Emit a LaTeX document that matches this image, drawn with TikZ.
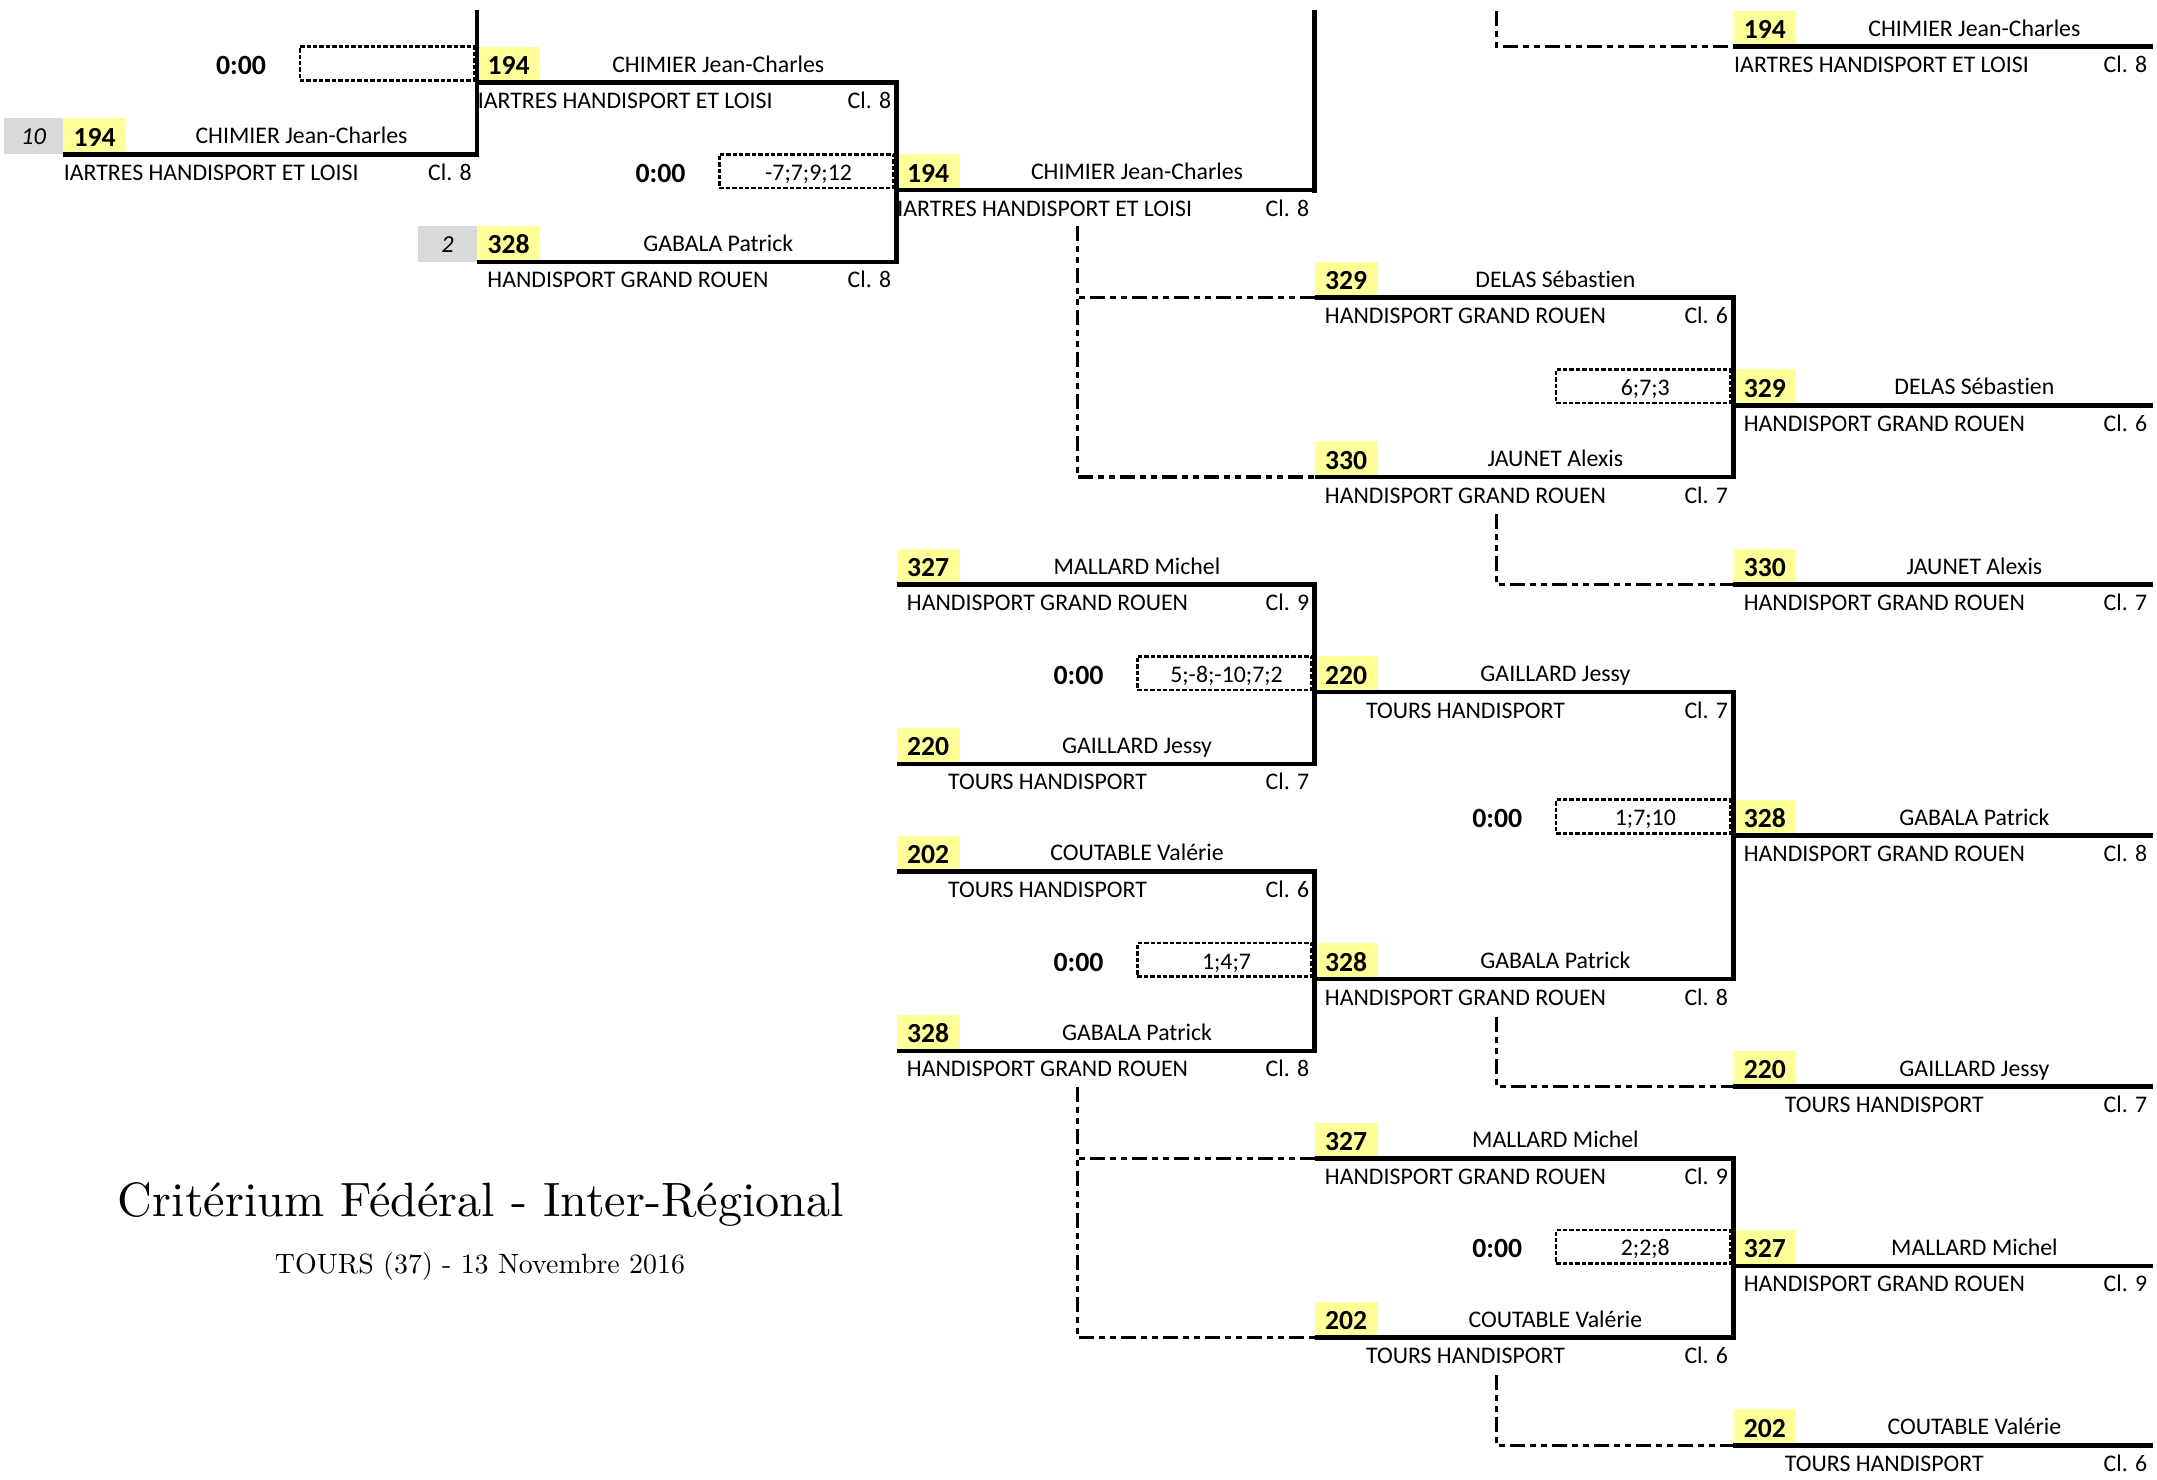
\documentclass[tikz,border=0pt]{standalone}
\usepackage{fontspec}
\usepackage{graphicx}
\newfontfamily\calib[Ligatures=NoCommon]{Carlito}
\definecolor{numyellow}{HTML}{FFFF99}
\definecolor{seedgray}{HTML}{D9D9D9}
\tikzset{
  hline/.style={line width=2.3pt, line cap=butt},
  vline/.style={line width=2.4pt, line cap=rect},
  ddline/.style={line width=1.6pt, dash pattern=on 7.5pt off 2.5pt on 3pt off 2.5pt on 3pt off 2.5pt},
  scoreframe/.style={draw, line width=1.3pt, dash pattern=on 2.2pt off 1pt, inner sep=0pt,
     minimum width=87.2pt, minimum height=16.8pt, anchor=south east},
  numtxt/.style={font=\calib\fontsize{13.8}{16}\selectfont\bfseries, inner sep=0pt, anchor=base},
  timetxt/.style={font=\calib\fontsize{13.9}{16}\selectfont\bfseries, inner sep=0pt, anchor=base},
  nametxt/.style={font=\calib\fontsize{11.9}{14}\selectfont, inner sep=0pt, anchor=base},
  seedtxt/.style={font=\calib\fontsize{12.2}{14}\selectfont\itshape, inner sep=0pt, anchor=base},
  titletxt/.style={inner sep=0pt, anchor=base}
}
% #1 L, #2 R, #3 k, #4 number, #5 name, #6 club, #7 class, #8 id
\newcommand{\brEntry}[8]{%
  \pgfmathsetmacro{\yy}{46.7+35.86*#3}%
  \fill[numyellow] ({#1},{\yy-35.86}) rectangle ({#1+63},{\yy});
  \node[numtxt] (#8num) at ({#1+31.5},{\yy-8}) {#4};
  \node[nametxt] (#8name) at ({(#1+63+#2)/2},{\yy-10.5}) {#5};
  \node[nametxt] (#8club) at ({#1+151},{\yy+26}) {#6};
  \node[nametxt, anchor=base east] (#8cl) at ({#2-5},{\yy+26}) {#7};
  \draw[hline] ({#1},{\yy}) coordinate (#8w) -- ({#2},{\yy}) coordinate (#8e);
}
% Chartres club, clipped text shown left aligned
\newcommand{\brEntryC}[7]{%
  \pgfmathsetmacro{\yy}{46.7+35.86*#3}%
  \fill[numyellow] ({#1},{\yy-35.86}) rectangle ({#1+63},{\yy});
  \node[numtxt] (#7num) at ({#1+31.5},{\yy-8}) {#4};
  \node[nametxt] (#7name) at ({(#1+63+#2)/2},{\yy-10.5}) {#5};
  \node[nametxt, anchor=base west] (#7club) at ({#1+0.5},{\yy+26}) {IARTRES HANDISPORT ET LOISI};
  \node[nametxt, anchor=base east] (#7cl) at ({#2-5},{\yy+26}) {#6};
  \draw[hline] ({#1},{\yy}) coordinate (#7w) -- ({#2},{\yy}) coordinate (#7e);
}
% #1 L, #2 k, #3 score, #4 id
\newcommand{\scoreBox}[4]{%
  \pgfmathsetmacro{\yy}{46.7+35.86*#2}%
  \node[scoreframe] (#4) at ({#1-1.5},{\yy-1}) {};
  \node[nametxt] (#4txt) at ({#1-88},{\yy-10}) {#3};
}
\newcommand{\scoreBoxEmpty}[3]{%
  \pgfmathsetmacro{\yy}{46.7+35.86*#2}%
  \node[scoreframe] (#3) at ({#1-1.5},{\yy-1}) {};
}
% #1 L, #2 k, #3 id
\newcommand{\timeLbl}[3]{%
  \pgfmathsetmacro{\yy}{46.7+35.86*#2}%
  \node[timetxt] (#3) at ({#1-236},{\yy-8}) {0:00};
}
% #1 L, #2 k, #3 seed, #4 id
\newcommand{\seedBox}[4]{%
  \pgfmathsetmacro{\yy}{46.7+35.86*#2}%
  \fill[seedgray] ({#1-59},{\yy-35.86}) rectangle ({#1},{\yy});
  \node[seedtxt] (#4) at ({#1-29.5},{\yy-9.7}) {#3};
}
\begin{document}
\begin{tikzpicture}[x=0.5pt,y=-0.5pt]
\useasboundingbox (0,0) rectangle (2157,1479);
\def\cA{63}\def\cB{477}\def\cC{896.5}\def\cD{1314.5}\def\cE{1733.3}\def\cF{2152.5}

% ---- column 0
\seedBox{\cA}{3}{10}{s03}
\brEntryC{\cA}{\cB}{3}{194}{CHIMIER Jean-Charles}{Cl. 8}{e03}
% ---- column 1
\brEntryC{\cB}{\cC}{1}{194}{CHIMIER Jean-Charles}{Cl. 8}{e11}
\seedBox{\cB}{6}{2}{s16}
\brEntry{\cB}{\cC}{6}{328}{GABALA Patrick}{HANDISPORT GRAND ROUEN}{Cl. 8}{e16}
% ---- column 2
\brEntryC{\cC}{\cD}{4}{194}{CHIMIER Jean-Charles}{Cl. 8}{e24}
\brEntry{\cC}{\cD}{15}{327}{MALLARD Michel}{HANDISPORT GRAND ROUEN}{Cl. 9}{e215}
\brEntry{\cC}{\cD}{20}{220}{GAILLARD Jessy}{TOURS HANDISPORT}{Cl. 7}{e220}
\brEntry{\cC}{\cD}{23}{202}{COUTABLE Valérie}{TOURS HANDISPORT}{Cl. 6}{e223}
\brEntry{\cC}{\cD}{28}{328}{GABALA Patrick}{HANDISPORT GRAND ROUEN}{Cl. 8}{e228}
% ---- column 3
\brEntry{\cD}{\cE}{7}{329}{DELAS Sébastien}{HANDISPORT GRAND ROUEN}{Cl. 6}{e37}
\brEntry{\cD}{\cE}{12}{330}{JAUNET Alexis}{HANDISPORT GRAND ROUEN}{Cl. 7}{e312}
\brEntry{\cD}{\cE}{18}{220}{GAILLARD Jessy}{TOURS HANDISPORT}{Cl. 7}{e318}
\brEntry{\cD}{\cE}{26}{328}{GABALA Patrick}{HANDISPORT GRAND ROUEN}{Cl. 8}{e326}
\brEntry{\cD}{\cE}{31}{327}{MALLARD Michel}{HANDISPORT GRAND ROUEN}{Cl. 9}{e331}
\brEntry{\cD}{\cE}{36}{202}{COUTABLE Valérie}{TOURS HANDISPORT}{Cl. 6}{e336}
% ---- column 4
\brEntryC{\cE}{\cF}{0}{194}{CHIMIER Jean-Charles}{Cl. 8}{e40}
\brEntry{\cE}{\cF}{10}{329}{DELAS Sébastien}{HANDISPORT GRAND ROUEN}{Cl. 6}{e410}
\brEntry{\cE}{\cF}{15}{330}{JAUNET Alexis}{HANDISPORT GRAND ROUEN}{Cl. 7}{e415}
\brEntry{\cE}{\cF}{22}{328}{GABALA Patrick}{HANDISPORT GRAND ROUEN}{Cl. 8}{e422}
\brEntry{\cE}{\cF}{29}{220}{GAILLARD Jessy}{TOURS HANDISPORT}{Cl. 7}{e429}
\brEntry{\cE}{\cF}{34}{327}{MALLARD Michel}{HANDISPORT GRAND ROUEN}{Cl. 9}{e434}
\brEntry{\cE}{\cF}{39}{202}{COUTABLE Valérie}{TOURS HANDISPORT}{Cl. 6}{e439}

% ---- score boxes and times
\scoreBoxEmpty{\cB}{1}{b11}
\timeLbl{\cB}{1}{t11}
\scoreBox{\cC}{4}{-7;7;9;12}{b24}
\timeLbl{\cC}{4}{t24}
\scoreBox{\cE}{10}{6;7;3}{b410}
\scoreBox{\cD}{18}{5;-8;-10;7;2}{b318}
\timeLbl{\cD}{18}{t318}
\scoreBox{\cD}{26}{1;4;7}{b326}
\timeLbl{\cD}{26}{t326}
\scoreBox{\cE}{22}{1;7;10}{b422}
\timeLbl{\cE}{22}{t422}
\scoreBox{\cE}{34}{2;2;8}{b434}
\timeLbl{\cE}{34}{t434}

% ---- bracket verticals
\coordinate (topB) at (\cB,12);
\coordinate (topD) at (\cD,12);
\draw[vline] (topB) -- (e03e);
\draw[vline] (e11e) -- (e16e);
\draw[vline] (topD) -- (e24e);
\draw[vline] (e215e) -- (e220e);
\draw[vline] (e223e) -- (e228e);
\draw[vline] (e37e) -- (e312e);
\draw[vline] (e318e) -- (e326e);
\draw[vline] (e331e) -- (e336e);

% ---- dash-dot-dot connectors
\coordinate (dA) at (1496.5,11);
\coordinate (dB) at (1077.5,226);
\coordinate (dC) at (1496.5,514);
\coordinate (dD) at (1496.5,1017);
\coordinate (dE) at (1077.5,1087);
\coordinate (dF) at (1496.5,1375);
\draw[ddline] (dA) |- (e40w);
\draw[ddline] (dB) |- (e312w);
\draw[ddline] (e37w) -- (e37w -| dB);
\draw[ddline] (dC) |- (e415w);
\draw[ddline] (dD) |- (e429w);
\draw[ddline] (dE) |- (e336w);
\draw[ddline] (e331w) -- (e331w -| dE);
\draw[ddline] (dF) |- (e439w);

% ---- title
\node[titletxt] (title) at (481,1216) {\resizebox{363pt}{!}{Critérium Fédéral - Inter-Régional}};
\node[titletxt] (subtitle) at (480,1273) {\resizebox{205pt}{!}{TOURS (37) - 13 Novembre 2016}};
\end{tikzpicture}
\end{document}
